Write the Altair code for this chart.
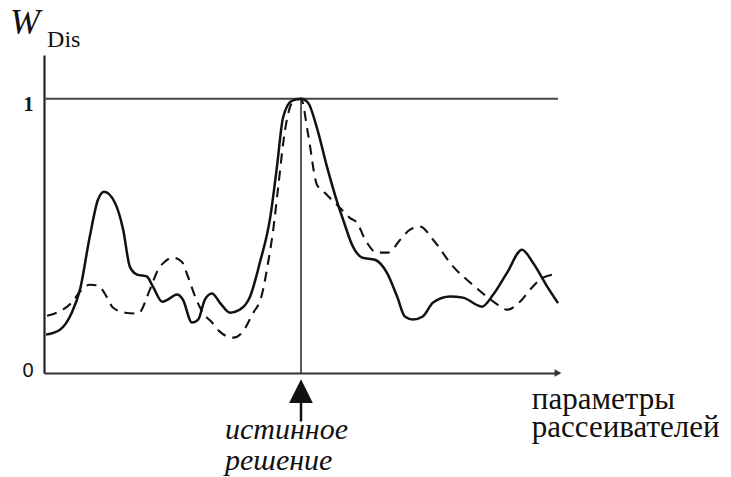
import altair as alt
import pandas as pd

# Discrepancy weight W_Dis as a function of the scatterer parameters
# (arbitrary units); the true solution sits at param = 5.
x_solid = [0.04, 0.31, 0.54, 0.70, 0.89, 1.05, 1.17, 1.38, 1.54, 1.67, 1.81, 2.00,
           2.12, 2.30, 2.41, 2.59, 2.70, 2.88, 3.00, 3.13, 3.27, 3.42, 3.62, 3.81,
           4.01, 4.20, 4.40, 4.53, 4.65, 4.82, 5.00, 5.14, 5.31, 5.51, 5.72, 5.82,
           6.01, 6.19, 6.44, 6.67, 6.87, 7.02, 7.18, 7.37, 7.57, 7.90, 8.15, 8.52,
           8.74, 9.01, 9.30, 9.51, 9.79, 10.0]
w_solid = [0.140, 0.158, 0.220, 0.304, 0.497, 0.632, 0.661, 0.621, 0.523, 0.388, 0.359, 0.352,
           0.315, 0.260, 0.268, 0.286, 0.268, 0.184, 0.195, 0.268, 0.290, 0.257, 0.220, 0.231,
           0.279, 0.403, 0.566, 0.749, 0.931, 0.993, 1.000, 0.985, 0.894, 0.749, 0.614, 0.559,
           0.461, 0.421, 0.413, 0.366, 0.279, 0.206, 0.195, 0.206, 0.257, 0.279, 0.275, 0.242,
           0.286, 0.366, 0.450, 0.403, 0.315, 0.255]

x_dashed = [0.06, 0.25, 0.54, 0.70, 0.89, 1.05, 1.23, 1.34, 1.58, 1.83, 2.06, 2.22,
            2.35, 2.51, 2.68, 2.80, 2.94, 3.09, 3.27, 3.42, 3.68, 3.87, 4.05, 4.24,
            4.36, 4.46, 4.55, 4.69, 4.84, 5.00, 5.14, 5.31, 5.41, 5.56, 5.76, 5.95,
            6.09, 6.25, 6.48, 6.69, 6.93, 7.12, 7.32, 7.57, 7.96, 8.29, 8.52, 8.77,
            9.01, 9.26, 9.49, 9.71, 10.0]
w_dashed = [0.209, 0.220, 0.257, 0.297, 0.322, 0.319, 0.275, 0.239, 0.220, 0.217, 0.304, 0.377,
            0.406, 0.421, 0.406, 0.352, 0.279, 0.220, 0.184, 0.151, 0.129, 0.151, 0.213, 0.286,
            0.403, 0.523, 0.668, 0.887, 0.989, 1.000, 0.869, 0.687, 0.668, 0.639, 0.602, 0.566,
            0.548, 0.486, 0.439, 0.439, 0.486, 0.523, 0.534, 0.486, 0.388, 0.330, 0.293, 0.257,
            0.231, 0.260, 0.311, 0.348, 0.362]

true_param = 5.0
x_max = 10.0
y_top = 1.16

# Annotation texts with their anchor points in data units
axis_text = ["параметры", "рассеивателей"]
axis_text_x = [9.49, 9.49]
axis_text_y = [-0.133, -0.233]
truth_text = ["истинное", "решение"]
truth_text_x = [3.52, 3.52]
truth_text_y = [-0.240, -0.355]

curves = pd.concat([
    pd.DataFrame({"param": x_solid, "w": w_solid, "series": "solid"}),
    pd.DataFrame({"param": x_dashed, "w": w_dashed, "series": "dashed"}),
])

INK = "#111111"
SERIF = "Liberation Serif"
SANS = "Liberation Sans"
xs = alt.Scale(domain=[0, x_max], nice=False, zero=False)
ys = alt.Scale(domain=[0, y_top], nice=False, zero=False)

x_axis = alt.Axis(title=None, labels=False, ticks=False, grid=False,
                  domainColor="#333333", domainWidth=2)
y_axis = alt.Axis(
    title=None, values=[0, 1], format="d", ticks=False, grid=False,
    domainColor="#222222", domainWidth=2.2, labelPadding=11,
    labelFontSize=20, labelColor=INK,
    labelFont={"condition": {"test": "datum.value == 1", "value": SERIF},
               "value": SANS},
    labelFontWeight={"condition": {"test": "datum.value == 1", "value": "bold"},
                     "value": "normal"},
    labelOffset={"condition": {"test": "datum.value == 1", "value": 6}, "value": -3},
)


def X(field="param"):
    return alt.X(f"{field}:Q", scale=xs, axis=x_axis)


def Y(field="w"):
    return alt.Y(f"{field}:Q", scale=ys, axis=y_axis)


solid = alt.Chart(curves).transform_filter("datum.series == 'solid'").mark_line(
    interpolate="monotone", color=INK, strokeWidth=2.5
).encode(x=X(), y=Y())

dashed = alt.Chart(curves).transform_filter("datum.series == 'dashed'").mark_line(
    interpolate="monotone", color=INK, strokeWidth=2.1, strokeDash=[10, 7]
).encode(x=X(), y=Y())

# Reference level W = 1 and the true-solution marker
level = alt.Chart(pd.DataFrame({"param": [0.0], "param2": [x_max], "w": [1.0]})).mark_rule(
    color="#444444", strokeWidth=2
).encode(x=X(), x2="param2:Q", y=Y())

truth = alt.Chart(pd.DataFrame({"param": [true_param], "w": [0.0], "w2": [1.0]})).mark_rule(
    color="#333333", strokeWidth=1.6
).encode(x=X(), y=Y(), y2="w2:Q")

# Arrow tip at the end of the parameter axis
axis_tip = alt.Chart(pd.DataFrame({"param": [x_max], "w": [0.0]})).mark_point(
    shape="triangle-right", filled=True, color="#333333", opacity=1, size=60
).encode(x=X(), y=Y())

# Upward arrow pointing at the true solution
shaft = alt.Chart(pd.DataFrame({"param": [true_param], "w": [-0.105], "w2": [-0.177]})).mark_rule(
    color=INK, strokeWidth=2.5
).encode(x=X(), y=Y(), y2="w2:Q")

head = alt.Chart(pd.DataFrame({"param": [true_param], "w": [-0.066]})).mark_point(
    shape="M0,-1L1,1L-1,1Z", filled=True, color=INK, opacity=1, size=560, strokeWidth=0
).encode(x=X(), y=Y())

axis_label = alt.Chart(pd.DataFrame({"param": axis_text_x, "w": axis_text_y,
                                     "text": axis_text})).mark_text(
    align="left", baseline="alphabetic", font=SERIF, fontSize=31, color=INK
).encode(x=X(), y=Y(), text="text:N")

truth_label = alt.Chart(pd.DataFrame({"param": truth_text_x, "w": truth_text_y,
                                      "text": truth_text})).mark_text(
    align="left", baseline="alphabetic", font=SERIF, fontStyle="italic",
    fontSize=30, color=INK
).encode(x=X(), y=Y(), text="text:N")

# Axis name W_Dis
w_main = alt.Chart(pd.DataFrame({"param": [-0.66], "w": [1.235], "text": ["W"]})).mark_text(
    align="left", baseline="alphabetic", font=SERIF, fontStyle="italic",
    fontSize=36, color=INK
).encode(x=X(), y=Y(), text="text:N")

w_sub = alt.Chart(pd.DataFrame({"param": [0.06], "w": [1.191], "text": ["Dis"]})).mark_text(
    align="left", baseline="alphabetic", font=SERIF, fontSize=24, color=INK
).encode(x=X(), y=Y(), text="text:N")

chart = alt.layer(
    level, truth, dashed, solid, axis_tip, shaft, head, axis_label, truth_label, w_main, w_sub
).properties(
    width=514, height=318,
    autosize=alt.AutoSizeParams(type="none"),
    padding={"left": 44, "top": 55, "right": 173, "bottom": 104},
    background="white",
).configure_view(stroke=None)

chart.save("out.html", embed_options={"renderer": "svg", "actions": False})
